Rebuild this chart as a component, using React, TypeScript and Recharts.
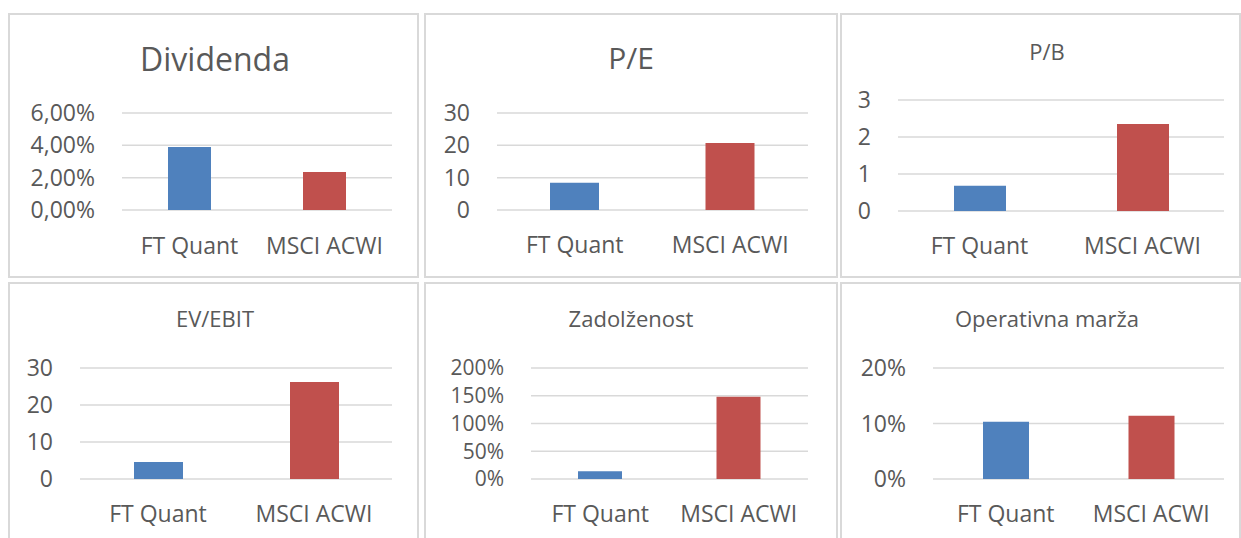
import { BarChart, Bar, XAxis, YAxis, CartesianGrid, Cell } from 'recharts'

const categories = ['FT Quant', 'MSCI ACWI']
const barColors = ['#4F81BD', '#C0504D']

const dividendaValues = [0.039, 0.0235]
const peValues = [8.4, 20.7]
const pbValues = [0.68, 2.35]
const evEbitValues = [4.6, 26.2]
const zadolzenostValues = [0.14, 1.48]
const marzaValues = [0.103, 0.114]

const dividendaTicks = [0, 0.02, 0.04, 0.06]
const peTicks = [0, 10, 20, 30]
const pbTicks = [0, 1, 2, 3]
const evEbitTicks = [0, 10, 20, 30]
const zadolzenostTicks = [0, 0.5, 1, 1.5, 2]
const marzaTicks = [0, 0.1, 0.2]

const textColor = '#595959'
const font = '"Open Sans", sans-serif'

const pct2 = (v: number) => (v * 100).toFixed(2).replace('.', ',') + '%'
const pct0 = (v: number) => Math.round(v * 100) + '%'
const plain = (v: number) => String(v)

type Box = { left: number; top: number; width: number; height: number }
type Plot = { left: number; right: number; top: number; bottom: number }

interface PanelProps {
  title: string
  values: number[]
  ticks: number[]
  format: (v: number) => string
  box: Box
  plot: Plot
  barSize: number
  titleSize: number
  titleBaseline: number
  titleX: number
  labelBaseline: number
  yFontSize?: number
}

const AXIS_H = 40
const X_FS = 23

function Panel({
  title,
  values,
  ticks,
  format,
  box,
  plot,
  barSize,
  titleSize,
  titleBaseline,
  titleX,
  labelBaseline,
  yFontSize = 23,
}: PanelProps) {
  const data = categories.map((name, i) => ({ name, value: values[i] }))
  const margin = {
    top: plot.top - box.top,
    right: box.left + box.width - plot.right,
    left: 0,
    bottom: box.top + box.height - plot.bottom - AXIS_H,
  }
  const xGap = labelBaseline - plot.bottom - 0.71 * X_FS

  return (
    <>
      <div
        style={{
          position: 'absolute',
          left: box.left,
          top: box.top,
          width: box.width,
          height: box.height,
          border: '2px solid #d9d9d9',
          boxSizing: 'border-box',
          background: '#fff',
        }}
      />
      <div
        style={{
          position: 'absolute',
          left: titleX - 200,
          width: 400,
          top: titleBaseline - 0.888 * titleSize,
          fontSize: titleSize,
          lineHeight: 1,
          textAlign: 'center',
          color: textColor,
          fontFamily: font,
          whiteSpace: 'nowrap',
        }}
      >
        {title}
      </div>
      <div style={{ position: 'absolute', left: box.left, top: box.top }}>
        <BarChart width={box.width} height={box.height} data={data} margin={margin}>
          <CartesianGrid vertical={false} stroke="#d9d9d9" strokeWidth={1.5} />
          <XAxis
            dataKey="name"
            axisLine={false}
            tickLine={false}
            tickSize={0}
            tickMargin={xGap}
            height={AXIS_H}
            interval={0}
            tick={{ fill: textColor, fontSize: X_FS, fontFamily: font }}
          />
          <YAxis
            domain={[ticks[0], ticks[ticks.length - 1]]}
            ticks={ticks}
            tickFormatter={format}
            axisLine={false}
            tickLine={false}
            tickSize={0}
            tickMargin={27}
            width={plot.left - box.left}
            interval={0}
            tick={{ fill: textColor, fontSize: yFontSize, fontFamily: font }}
          />
          <Bar dataKey="value" barSize={barSize} isAnimationActive={false}>
            {data.map((_, i) => (
              <Cell key={i} fill={barColors[i]} />
            ))}
          </Bar>
        </BarChart>
      </div>
    </>
  )
}

export default function App() {
  return (
    <div
      style={{
        position: 'absolute',
        left: 0,
        top: 0,
        width: 1241,
        height: 538,
        overflow: 'hidden',
        background: '#fff',
      }}
    >
      <Panel
        title="Dividenda"
        values={dividendaValues}
        ticks={dividendaTicks}
        format={pct2}
        box={{ left: 8, top: 13, width: 411, height: 265 }}
        plot={{ left: 122, right: 392, top: 113, bottom: 210 }}
        barSize={43}
        titleSize={32}
        titleBaseline={71}
        titleX={215}
        labelBaseline={254}
      />
      <Panel
        title="P/E"
        values={peValues}
        ticks={peTicks}
        format={plain}
        box={{ left: 424, top: 13, width: 414, height: 265 }}
        plot={{ left: 497, right: 808, top: 113, bottom: 210 }}
        barSize={49}
        titleSize={30}
        titleBaseline={70}
        titleX={631}
        labelBaseline={253}
      />
      <Panel
        title="P/B"
        values={pbValues}
        ticks={pbTicks}
        format={plain}
        box={{ left: 840, top: 13, width: 401, height: 265 }}
        plot={{ left: 898, right: 1224, top: 100, bottom: 211 }}
        barSize={52}
        titleSize={22}
        titleBaseline={60}
        titleX={1047}
        labelBaseline={254}
      />
      <Panel
        title="EV/EBIT"
        values={evEbitValues}
        ticks={evEbitTicks}
        format={plain}
        box={{ left: 8, top: 282, width: 411, height: 262 }}
        plot={{ left: 80, right: 392, top: 368, bottom: 479 }}
        barSize={49}
        titleSize={22}
        titleBaseline={327}
        titleX={215}
        labelBaseline={522}
      />
      <Panel
        title="Zadolženost"
        values={zadolzenostValues}
        ticks={zadolzenostTicks}
        format={pct0}
        box={{ left: 424, top: 282, width: 414, height: 262 }}
        plot={{ left: 531, right: 808, top: 368, bottom: 479 }}
        barSize={44}
        titleSize={22}
        titleBaseline={327}
        titleX={631}
        labelBaseline={522}
        yFontSize={21}
      />
      <Panel
        title="Operativna marža"
        values={marzaValues}
        ticks={marzaTicks}
        format={pct0}
        box={{ left: 840, top: 282, width: 401, height: 262 }}
        plot={{ left: 933, right: 1224, top: 368, bottom: 479 }}
        barSize={46}
        titleSize={22}
        titleBaseline={327}
        titleX={1047}
        labelBaseline={522}
      />
    </div>
  )
}
